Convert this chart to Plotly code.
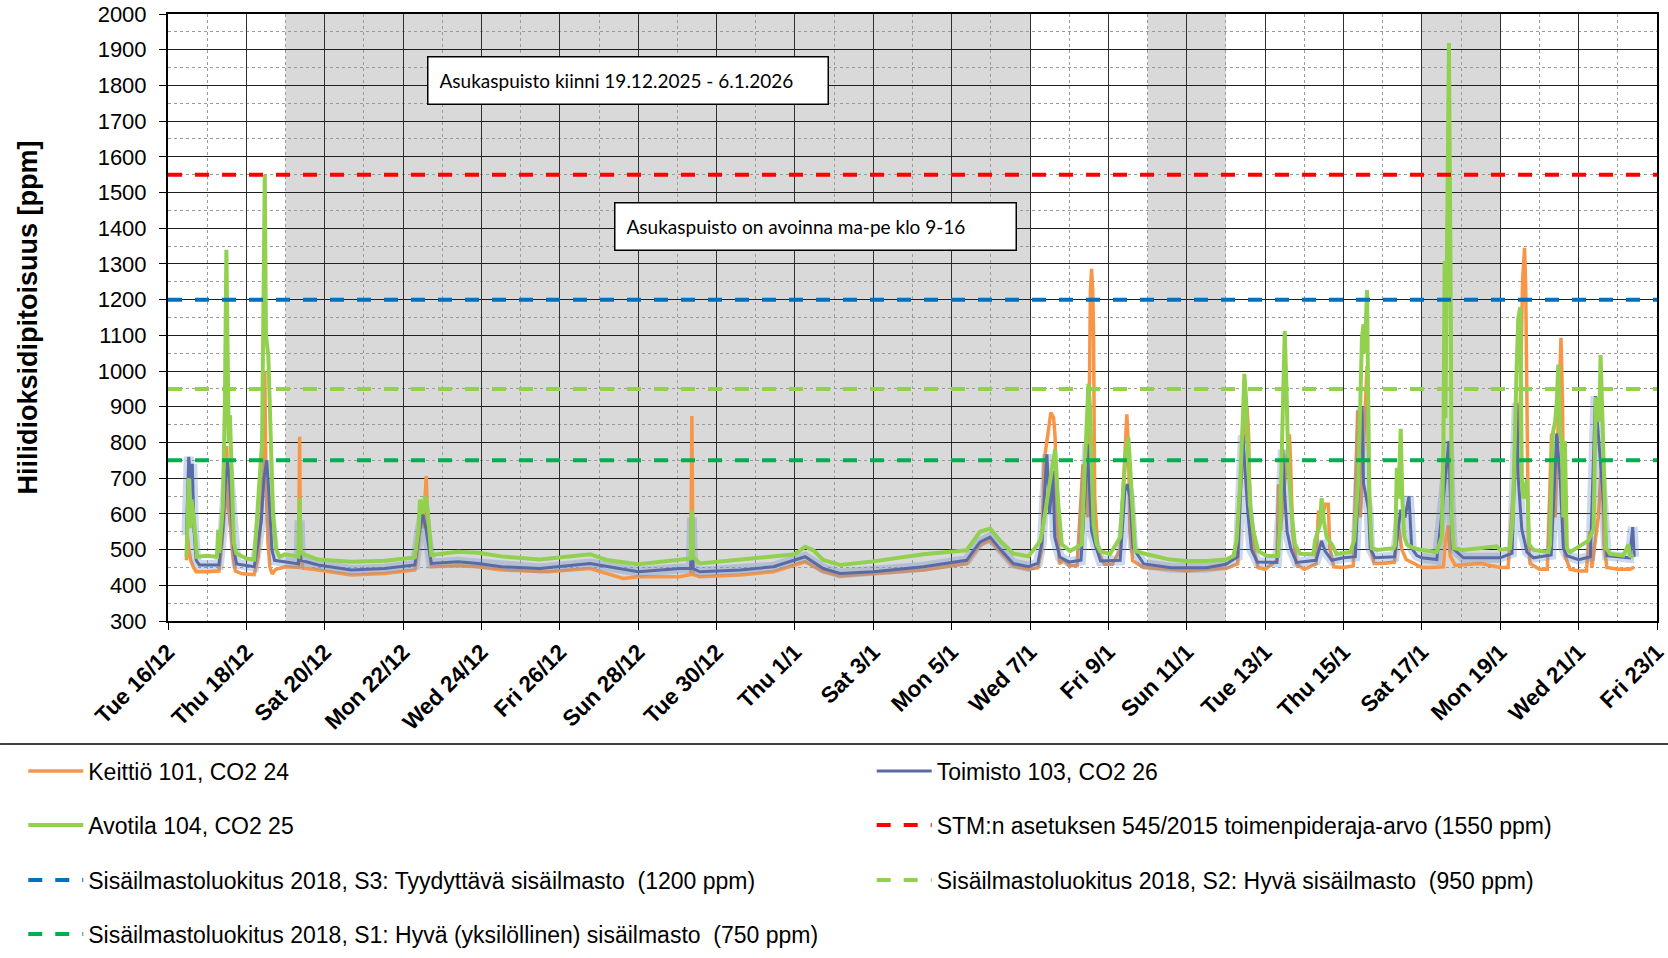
import pandas as pd
import plotly.graph_objects as go

START = "2025-12-16"
X_RANGE = ["2025-12-16", "2026-01-23"]
TICK_DATES = ["2025-12-16", "2025-12-18", "2025-12-20", "2025-12-22", "2025-12-24",
              "2025-12-26", "2025-12-28", "2025-12-30", "2026-01-01", "2026-01-03",
              "2026-01-05", "2026-01-07", "2026-01-09", "2026-01-11", "2026-01-13",
              "2026-01-15", "2026-01-17", "2026-01-19", "2026-01-21", "2026-01-23"]
TICK_LABELS = ["Tue 16/12", "Thu 18/12", "Sat 20/12", "Mon 22/12", "Wed 24/12",
               "Fri 26/12", "Sun 28/12", "Tue 30/12", "Thu 1/1", "Sat 3/1",
               "Mon 5/1", "Wed 7/1", "Fri 9/1", "Sun 11/1", "Tue 13/1",
               "Thu 15/1", "Sat 17/1", "Mon 19/1", "Wed 21/1", "Fri 23/1"]
CLOSED_FROM = ["2025-12-19", "2026-01-10", "2026-01-17"]
CLOSED_TO = ["2026-01-07", "2026-01-12", "2026-01-19"]

# time in days since 16.12.2025 00:00, CO2 in ppm
KEITTIO_DAY = [0.47, 0.50, 0.53, 0.58, 0.65, 0.72, 1.00, 1.30, 1.38, 1.45, 1.50, 1.54, 1.60, 1.66, 1.72,
               1.90, 2.20, 2.30, 2.38, 2.44, 2.47, 2.50, 2.55, 2.60, 2.66, 2.75, 3.00, 3.33, 3.36, 3.38,
               3.45, 3.83, 4.68, 5.53, 6.30, 6.40, 6.47, 6.52, 6.59, 6.63, 6.70, 6.72, 7.40, 7.91, 8.51,
               9.49, 9.70, 10.77, 11.62, 12.00, 13.06, 13.34, 13.37, 13.40, 13.57, 14.60, 15.45, 16.26,
               16.72, 17.15, 18.00, 19.28, 20.38, 20.72, 20.98, 21.23, 21.57, 21.96, 22.20, 22.30, 22.36,
               22.47, 22.53, 22.60, 22.64, 22.68, 22.75, 22.85, 23.00, 23.20, 23.35, 23.48, 23.54, 23.57,
               23.60, 23.62, 23.65, 23.73, 23.90, 24.10, 24.30, 24.40, 24.47, 24.51, 24.55, 24.62, 24.90,
               25.60, 26.00, 26.50, 27.00, 27.30, 27.37, 27.44, 27.54, 27.58, 27.62, 27.70, 27.82, 28.00,
               28.30, 28.34, 28.39, 28.55, 28.62, 28.65, 28.70, 28.80, 29.00, 29.30, 29.36, 29.44, 29.53,
               29.61, 29.65, 29.75, 30.00, 30.25, 30.36, 30.43, 30.51, 30.60, 30.65, 30.70, 30.78, 31.00,
               31.30, 31.40, 31.49, 31.60, 31.80, 32.00, 32.20, 32.55, 32.60, 32.67, 32.72, 32.85, 33.50,
               34.00, 34.20, 34.34, 34.42, 34.51, 34.57, 34.62, 34.65, 34.68, 34.72, 34.76, 35.00, 35.20,
               35.31, 35.40, 35.48, 35.55, 35.59, 35.61, 35.65, 35.78, 36.00, 36.20, 36.28, 36.34, 36.50,
               36.59, 36.65, 36.72, 37.00, 37.30, 37.42]
KEITTIO_PPM = [470, 540, 500, 470, 450, 438, 438, 440, 520, 620, 790, 620, 560, 480, 440,
               432, 430, 480, 600, 760, 1000, 700, 520, 450, 432, 445, 452, 450, 816, 480,
               448, 443, 429, 433, 443, 520, 600, 560, 706, 560, 470, 452, 455, 452, 443,
               438, 438, 447, 419, 424, 424, 430, 874, 430, 424, 429, 438, 466,
               438, 426, 433, 443, 461, 512, 526, 494, 454, 445, 449, 500, 750,
               834, 884, 870, 815, 599, 459, 472, 455, 455, 739, 590, 1225, 1286,
               1225, 1113, 646, 496, 459, 459, 500, 720, 879, 785, 552, 469, 450,
               445, 440, 445, 447, 460, 665, 780, 898, 815, 599, 505, 450, 445,
               470, 683, 552, 757, 823, 739, 552, 459, 445, 460, 609, 580, 627,
               627, 505, 452, 450, 455, 890, 590, 804, 1013, 700, 500, 461, 461,
               465, 568, 500, 472, 461, 450, 450, 452, 525, 568, 483, 456, 461,
               450, 450, 675, 750, 911, 1254, 1345, 1233, 858, 514, 461, 445, 445,
               825, 590, 858, 1093, 911, 557, 483, 445, 440, 440, 552, 450, 590,
               750, 514, 450, 445, 445, 450]

TOIMISTO_DAY = [0.47, 0.50, 0.53, 0.57, 0.62, 0.66, 0.72, 0.80, 1.30, 1.40, 1.46, 1.52, 1.57, 1.62, 1.68,
                1.75, 2.20, 2.30, 2.38, 2.45, 2.52, 2.58, 2.65, 2.72, 2.98, 3.33, 3.36, 3.39, 3.83, 4.68,
                5.53, 6.30, 6.40, 6.50, 6.58, 6.66, 6.72, 7.40, 7.91, 8.51, 9.49, 10.77, 12.00, 13.06,
                13.34, 13.37, 13.40, 13.57, 14.60, 15.45, 16.26, 16.72, 17.15, 18.00, 19.28, 20.38, 20.72,
                20.98, 21.23, 21.57, 21.96, 22.20, 22.30, 22.43, 22.50, 22.58, 22.63, 22.76, 23.00, 23.30,
                23.40, 23.46, 23.53, 23.57, 23.66, 23.80, 24.30, 24.42, 24.48, 24.55, 24.63, 24.90, 25.60,
                26.50, 27.00, 27.30, 27.43, 27.50, 27.56, 27.65, 27.80, 28.30, 28.38, 28.45, 28.50, 28.56,
                28.66, 28.80, 29.30, 29.44, 29.53, 29.70, 30.00, 30.30, 30.47, 30.51, 30.58, 30.64, 30.68,
                30.80, 31.30, 31.46, 31.57, 31.67, 31.74, 31.87, 32.00, 32.38, 32.51, 32.60, 32.69, 32.72,
                32.78, 33.06, 34.00, 34.30, 34.42, 34.46, 34.55, 34.68, 34.85, 35.30, 35.44, 35.53, 35.61,
                35.70, 36.00, 36.30, 36.43, 36.50, 36.56, 36.63, 36.72, 37.30, 37.38, 37.42]
TOIMISTO_PPM = [540, 700, 760, 700, 740, 560, 470, 457, 457, 560, 680, 750, 700, 600, 500,
                460, 452, 520, 580, 700, 750, 650, 500, 470, 466, 460, 582, 470, 457, 443,
                447, 457, 540, 600, 560, 500, 461, 466, 461, 452, 447, 461, 438, 447,
                447, 590, 447, 438, 443, 452, 480, 447, 433, 438, 452, 470, 521,
                535, 502, 461, 452, 462, 520, 767, 599, 720, 535, 479, 465, 470,
                646, 795, 646, 552, 515, 468, 470, 665, 683, 646, 505, 460, 449,
                449, 459, 480, 820, 700, 600, 500, 465, 464, 600, 780, 650, 550,
                500, 464, 470, 524, 496, 470, 477, 480, 900, 686, 643, 611, 504,
                477, 480, 611, 590, 649, 504, 483, 477, 472, 600, 697, 804, 675,
                504, 477, 477, 490, 911, 697, 557, 493, 477, 485, 825, 697, 504,
                483, 472, 480, 930, 825, 750, 643, 483, 477, 563, 480]

AVOTILA_DAY = [0.47, 0.50, 0.53, 0.56, 0.60, 0.65, 0.70, 0.74, 1.00, 1.25, 1.28, 1.31, 1.40, 1.45, 1.49,
               1.51, 1.55, 1.58, 1.63, 1.68, 1.74, 2.00, 2.20, 2.28, 2.40, 2.47, 2.50, 2.56, 2.62, 2.68,
               2.76, 2.85, 2.98, 3.33, 3.36, 3.39, 3.83, 4.68, 5.53, 6.30, 6.40, 6.43, 6.50, 6.56, 6.62,
               6.68, 6.72, 7.40, 7.91, 8.51, 9.49, 10.77, 11.19, 12.00, 13.06, 13.34, 13.37, 13.40, 13.57,
               14.60, 15.45, 16.00, 16.26, 16.47, 16.72, 17.15, 18.00, 19.28, 20.38, 20.72, 20.98, 21.23,
               21.57, 21.96, 22.26, 22.34, 22.51, 22.64, 22.72, 22.81, 23.02, 23.32, 23.40, 23.45, 23.49,
               23.53, 23.57, 23.62, 23.70, 23.79, 24.04, 24.30, 24.38, 24.45, 24.51, 24.55, 24.59, 24.68,
               24.98, 25.57, 26.00, 26.50, 27.00, 27.19, 27.27, 27.36, 27.43, 27.47, 27.51, 27.55, 27.61,
               27.70, 27.82, 28.04, 28.33, 28.38, 28.44, 28.50, 28.55, 28.59, 28.68, 28.76, 28.89, 29.23,
               29.27, 29.40, 29.44, 29.50, 29.57, 29.70, 29.82, 30.17, 30.27, 30.38, 30.47, 30.51, 30.54,
               30.60, 30.62, 30.66, 30.72, 30.85, 31.28, 31.32, 31.36, 31.40, 31.46, 31.50, 31.55, 31.62,
               31.79, 32.00, 32.38, 32.51, 32.55, 32.58, 32.60, 32.64, 32.66, 32.69, 32.70, 32.72, 32.74,
               32.76, 32.81, 33.06, 33.49, 33.91, 34.00, 34.25, 34.32, 34.38, 34.42, 34.46, 34.51, 34.55,
               34.59, 34.68, 34.74, 34.85, 35.23, 35.27, 35.34, 35.40, 35.44, 35.48, 35.53, 35.57, 35.61,
               35.65, 35.70, 35.78, 36.25, 36.38, 36.44, 36.50, 36.53, 36.56, 36.59, 36.63, 36.70, 36.80,
               37.14, 37.27, 37.31, 37.40]
AVOTILA_PPM = [480, 640, 700, 560, 640, 600, 520, 480, 483, 480, 555, 490, 620, 900, 1340,
               1150, 800, 877, 700, 520, 490, 475, 472, 600, 800, 1550, 1100, 1043, 800, 600,
               500, 480, 487, 480, 644, 490, 472, 466, 469, 478, 560, 640, 600, 650, 620,
               520, 485, 494, 491, 481, 472, 487, 471, 459, 472, 475, 611, 480, 461,
               471, 480, 487, 508, 498, 471, 457, 467, 487, 498, 550, 559, 526,
               489, 481, 524, 570, 692, 781, 627, 515, 496, 515, 739, 870, 964,
               898, 739, 570, 515, 496, 487, 534, 673, 776, 814, 739, 646, 496,
               487, 472, 468, 468, 472, 482, 524, 681, 867, 992, 926, 786, 627,
               552, 496, 482, 482, 570, 879, 1113, 926, 739, 599, 515, 488, 487,
               524, 570, 644, 580, 534, 515, 488, 493, 525, 697, 1093, 1131, 1050,
               1227, 1018, 643, 504, 499, 504, 514, 729, 643, 838, 643, 536, 514,
               504, 499, 493, 536, 804, 1308, 868, 1436, 1844, 1919, 1769, 1501, 1126,
               590, 504, 499, 504, 509, 499, 504, 590, 911, 1018, 1147, 1179, 697,
               643, 697, 514, 499, 493, 514, 825, 858, 911, 1018, 825, 804, 590,
               804, 504, 493, 525, 557, 922, 922, 858, 1045, 954, 783, 504, 488,
               483, 514, 483, 480]

LIMIT_NAMES = ["STM:n asetuksen 545/2015 toimenpideraja-arvo (1550 ppm)",
               "Sisäilmastoluokitus 2018, S3: Tyydyttävä sisäilmasto\u00a0 (1200 ppm)",
               "Sisäilmastoluokitus 2018, S2: Hyvä sisäilmasto\u00a0 (950 ppm)",
               "Sisäilmastoluokitus 2018, S1: Hyvä (yksilöllinen) sisäilmasto\u00a0 (750 ppm)"]
LIMIT_PPM = [1550, 1200, 950, 750]
LIMIT_COLORS = ["#FF0000", "#0070C0", "#92D050", "#00B050"]
LIMIT_LEGENDS = ["legend4", "legend5", "legend6", "legend7"]

NOTE_CLOSED = "Asukaspuisto kiinni 19.12.2025 - 6.1.2026"
NOTE_OPEN = "Asukaspuisto on avoinna ma-pe klo 9-16"

base = pd.Timestamp(START)


def to_time(days):
    return base + pd.to_timedelta(days, unit="D")


fig = go.Figure()

fig.add_trace(go.Scatter(x=to_time(KEITTIO_DAY), y=KEITTIO_PPM, mode="lines",
                         name="Keittiö 101, CO2 24", legend="legend",
                         line=dict(color="#F79646", width=3.5)))
fig.add_trace(go.Scatter(x=to_time(TOIMISTO_DAY), y=TOIMISTO_PPM, mode="lines",
                         showlegend=False, hoverinfo="skip",
                         line=dict(color="rgba(110,145,200,0.35)", width=10)))
fig.add_trace(go.Scatter(x=to_time(TOIMISTO_DAY), y=TOIMISTO_PPM, mode="lines",
                         name="Toimisto 103, CO2 26", legend="legend2",
                         line=dict(color="#5A6AA6", width=3)))
fig.add_trace(go.Scatter(x=to_time(AVOTILA_DAY), y=AVOTILA_PPM, mode="lines",
                         name="Avotila 104, CO2 25", legend="legend3",
                         line=dict(color="#92D050", width=4)))
for name, val, col, lg in zip(LIMIT_NAMES, LIMIT_PPM, LIMIT_COLORS, LIMIT_LEGENDS):
    fig.add_trace(go.Scatter(x=X_RANGE, y=[val, val], mode="lines", name=name, legend=lg,
                             line=dict(color=col, width=4, dash="14px,13px")))

for x0, x1 in zip(CLOSED_FROM, CLOSED_TO):
    fig.add_shape(type="rect", xref="x", yref="paper", x0=x0, x1=x1, y0=0, y1=1,
                  fillcolor="#D9D9D9", line=dict(width=0), layer="below")

fig.add_shape(type="line", xref="paper", yref="paper", x0=-0.1128, x1=1.0074,
              y0=-0.2026, y1=-0.2026, line=dict(color="#404040", width=2))

box_font = dict(family="Lato, Open Sans, sans-serif", size=19, color="black")
fig.add_annotation(xref="paper", yref="paper", x=0.1739, y=0.8905, xanchor="left",
                   yanchor="middle", text=NOTE_CLOSED, showarrow=False, align="left",
                   width=377, height=24, borderpad=11, borderwidth=1.5,
                   bordercolor="black", bgcolor="white", font=box_font)
fig.add_annotation(xref="paper", yref="paper", x=0.2995, y=0.6495, xanchor="left",
                   yanchor="middle", text=NOTE_OPEN, showarrow=False, align="left",
                   width=378, height=24, borderpad=11, borderwidth=1.5,
                   bordercolor="black", bgcolor="white", font=box_font)

legend_font = dict(family="Liberation Sans, Arial", size=23, color="black")
COL_X = [-0.0972, 0.4726]
ROW_Y = [-0.2471, -0.3361, -0.4267, -0.5157]


def leg(col, row):
    return dict(orientation="v", x=COL_X[col], y=ROW_Y[row], xanchor="left", yanchor="middle",
                itemwidth=55, bgcolor="rgba(0,0,0,0)", font=legend_font)


fig.update_layout(
    width=1668, height=958,
    margin=dict(l=168, r=11, t=14, b=337, autoexpand=False),
    paper_bgcolor="white", plot_bgcolor="white",
    font=dict(family="Liberation Sans, Arial", color="black"),
    showlegend=True,
    legend=leg(0, 0), legend2=leg(1, 0), legend3=leg(0, 1), legend4=leg(1, 1),
    legend5=leg(0, 2), legend6=leg(1, 2), legend7=leg(0, 3),
    xaxis=dict(type="date", range=X_RANGE, tickmode="array", tickvals=TICK_DATES,
               ticktext=TICK_LABELS, tickangle=-45, automargin=False, ticklabeloverflow="allow",
               tickfont=dict(family="Liberation Sans, Arial", size=22.5, color="black", weight="bold"),
               showgrid=True, gridcolor="#303030", gridwidth=1,
               minor=dict(dtick=86400000, tick0="2025-12-16", showgrid=True, gridcolor="#9A9A9A",
                          griddash="dot", gridwidth=1),
               ticks="outside", ticklen=7, tickcolor="black",
               showline=True, linecolor="black", linewidth=2, mirror=True, zeroline=False),
    yaxis=dict(range=[300, 2000], tickmode="linear", tick0=0, dtick=100, automargin=False,
               tickfont=dict(family="Liberation Sans, Arial", size=22, color="black"),
               ticklabelstandoff=8,
               showgrid=True, gridcolor="#202020", gridwidth=1,
               minor=dict(dtick=50, tick0=0, showgrid=True, gridcolor="#9A9A9A",
                          griddash="dot", gridwidth=1),
               ticks="outside", ticklen=7, tickcolor="black",
               showline=True, linecolor="black", linewidth=2, mirror=True, zeroline=False,
               title=dict(text="Hiilidioksidipitoisuus [ppm]", standoff=52,
                          font=dict(family="Liberation Sans, Arial", size=27, color="black",
                                    weight="bold"))),
)

fig.write_html("out.html", config={"displayModeBar": False},
               post_script="document.body.style.margin='0px';")
